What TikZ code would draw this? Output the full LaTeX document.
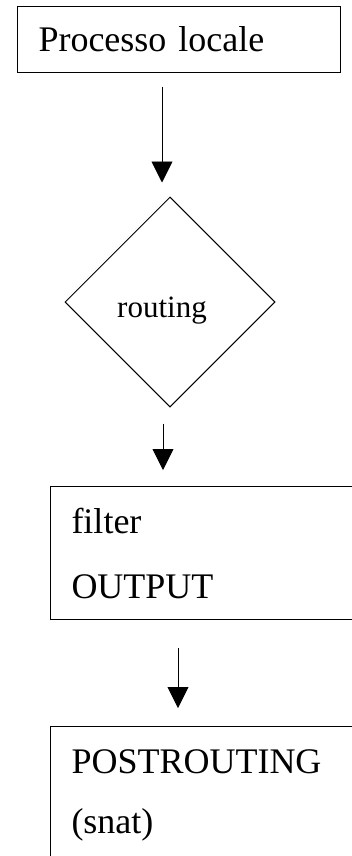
\documentclass[tikz,border=0pt]{standalone}
\usepackage{fontspec}
\setmainfont{Liberation Serif}
\usetikzlibrary{arrows.meta,positioning,shapes.geometric}

\begin{document}
\begin{tikzpicture}[
    x=1pt, y=-1pt,
    line width=1pt,
    box/.style={draw, rectangle, align=left, inner xsep=21pt, inner ysep=0pt,
      anchor=north west},
    decision/.style={draw, diamond, aspect=1, minimum width=210pt,
      minimum height=210pt, inner sep=0pt},
    arrow/.style={-{Triangle[width=21pt,length=21pt]}, line width=0.9pt}
  ]
    \useasboundingbox (0,0) rectangle (352,856);
    \clip (0,0) rectangle (352,856);

    \node[box, minimum width=323pt, minimum height=66pt, text width=281pt,
      font=\fontsize{36}{40}\selectfont] (proc) at (17,6) {Processo locale};
    \node[decision] (routing) at (170,302) {};
    \node[anchor=base, inner sep=0pt, font=\fontsize{31}{35}\selectfont]
      (routingtxt) at (162,317) {routing};
    \node[box, minimum width=330pt, minimum height=133pt, text width=288pt,
      font=\fontsize{36}{65}\selectfont] (filter) at (50,486) {filter\\OUTPUT};
    \node[box, minimum width=330pt, minimum height=137pt, text width=288pt,
      font=\fontsize{36}{60}\selectfont] (post) at (50,726) {POSTROUTING\\(snat)};

    \draw[arrow, shorten <=14pt, shorten >=14pt]
      ([xshift=-8pt]routing.north |- proc.south) -- ([xshift=-8pt]routing.north);
    \draw[arrow, shorten <=16pt, shorten >=16pt]
      ([xshift=-7pt]routing.south) -- ([xshift=-7pt]routing.south |- filter.north);
    \draw[arrow, shorten <=28pt, shorten >=18pt]
      ([xshift=128pt]filter.south west) -- ([xshift=128pt]post.north west);
\end{tikzpicture}
\end{document}
